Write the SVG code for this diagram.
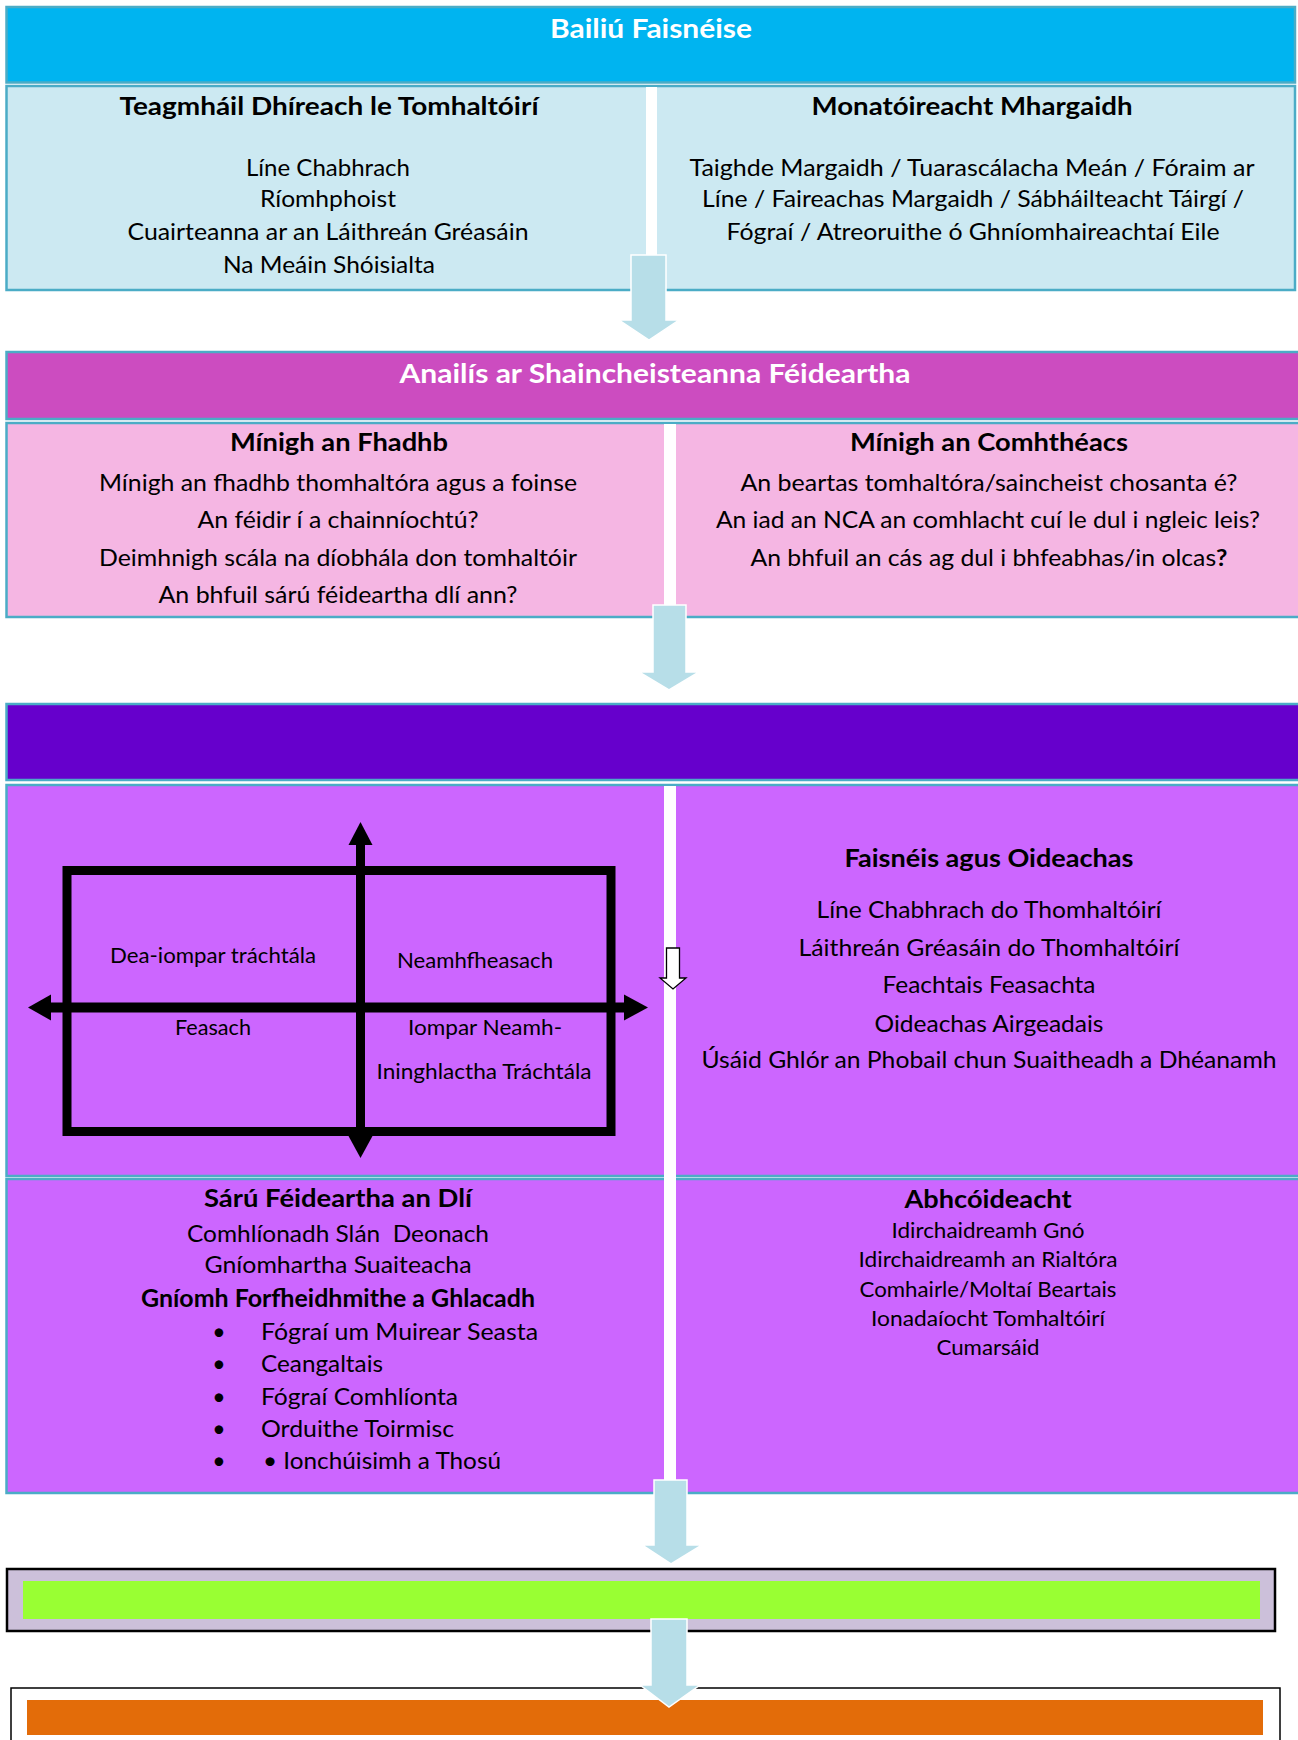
<svg xmlns="http://www.w3.org/2000/svg" width="1298" height="1740" viewBox="0 0 1298 1740">
<style>
text{font-family:Lato,"Open Sans","DejaVu Sans",sans-serif;fill:#000;text-anchor:middle}
.h{font-size:27px;font-weight:bold;fill:#fff}
.t{font-size:24px;font-weight:bold}
.b{font-size:23px}
.s{font-size:21.5px}
.cell{stroke:#4BACC6;stroke-width:2.5}
.div{fill:#fff}
.blk{fill:#000}
.conn{fill:#B7DEE8;stroke:#fff;stroke-width:1.5}
.start{text-anchor:start}
</style>
<rect width="1298" height="1740" fill="#fff"/>

<g id="node-bailiu">
<rect class="cell" x="6.5" y="7" width="1288.5" height="75.5" fill="#00B4F0"/>
<rect class="cell" x="6.5" y="86" width="1288.5" height="204" fill="#CCE9F2"/>
<rect class="div" x="646" y="87" width="11" height="170"/>
<text class="h" x="651" y="38" textLength="202" lengthAdjust="spacingAndGlyphs">Bailiú Faisnéise</text>
<text class="t" x="329" y="115" textLength="419" lengthAdjust="spacingAndGlyphs">Teagmháil Dhíreach le Tomhaltóirí</text>
<text class="b" x="328" y="176" textLength="164" lengthAdjust="spacingAndGlyphs">Líne Chabhrach</text>
<text class="b" x="328" y="207" textLength="136" lengthAdjust="spacingAndGlyphs">Ríomhphoist</text>
<text class="b" x="328" y="240" textLength="401" lengthAdjust="spacingAndGlyphs">Cuairteanna ar an Láithreán Gréasáin</text>
<text class="b" x="329" y="273" textLength="212" lengthAdjust="spacingAndGlyphs">Na Meáin Shóisialta</text>
<text class="t" x="972" y="115" textLength="321" lengthAdjust="spacingAndGlyphs">Monatóireacht Mhargaidh</text>
<text class="b" x="972" y="176" textLength="565" lengthAdjust="spacingAndGlyphs">Taighde Margaidh / Tuarascálacha Meán / Fóraim ar</text>
<text class="b" x="973" y="207" textLength="542" lengthAdjust="spacingAndGlyphs">Líne / Faireachas Margaidh / Sábháilteacht Táirgí /</text>
<text class="b" x="973" y="240" textLength="493" lengthAdjust="spacingAndGlyphs">Fógraí / Atreoruithe ó Ghníomhaireachtaí Eile</text>
</g>

<g id="node-anailis">
<rect class="cell" x="6.5" y="352" width="1310" height="67" fill="#CC4CC0"/>
<rect class="cell" x="6.5" y="423" width="1310" height="194" fill="#F5B6E3"/>
<rect class="div" x="664" y="424" width="12" height="182"/>
<text class="h" x="655" y="383" textLength="511" lengthAdjust="spacingAndGlyphs">Anailís ar Shaincheisteanna Féideartha</text>
<text class="t" x="339" y="451" textLength="218" lengthAdjust="spacingAndGlyphs">Mínigh an Fhadhb</text>
<text class="b" x="338" y="491" textLength="478" lengthAdjust="spacingAndGlyphs">Mínigh an fhadhb thomhaltóra agus a foinse</text>
<text class="b" x="338" y="528" textLength="281" lengthAdjust="spacingAndGlyphs">An féidir í a chainníochtú?</text>
<text class="b" x="338" y="566" textLength="478" lengthAdjust="spacingAndGlyphs">Deimhnigh scála na díobhála don tomhaltóir</text>
<text class="b" x="338" y="603" textLength="359" lengthAdjust="spacingAndGlyphs">An bhfuil sárú féideartha dlí ann?</text>
<text class="t" x="989" y="451" textLength="278" lengthAdjust="spacingAndGlyphs">Mínigh an Comhthéacs</text>
<text class="b" x="989" y="491" textLength="497" lengthAdjust="spacingAndGlyphs">An beartas tomhaltóra/saincheist chosanta é?</text>
<text class="b" x="988" y="528" textLength="544" lengthAdjust="spacingAndGlyphs">An iad an NCA an comhlacht cuí le dul i ngleic leis?</text>
<text class="b" x="989" y="566" textLength="477" lengthAdjust="spacingAndGlyphs">An bhfuil an cás ag dul i bhfeabhas/in olcas<tspan font-weight="bold">?</tspan></text>
</g>

<g id="node-gniomh">
<rect class="cell" x="6.5" y="704" width="1310" height="76" fill="#6600CC"/>
<rect class="cell" x="6.5" y="785" width="1310" height="391" fill="#CC66FF"/>
<rect class="cell" x="6.5" y="1179" width="1310" height="314" fill="#CC66FF"/>
<rect class="div" x="664" y="786" width="12" height="700"/>
<g id="quadrant">
<rect x="67" y="870.5" width="544" height="261" fill="none" stroke="#000" stroke-width="9"/>
<rect class="blk" x="50" y="1002.5" width="575" height="10"/>
<polygon class="blk" points="28,1007.5 51,994.5 51,1020.5"/>
<polygon class="blk" points="648,1007.5 624,994.5 624,1020.5"/>
<rect class="blk" x="356" y="844" width="9" height="293"/>
<polygon class="blk" points="360.5,822 348.5,845 372.5,845"/>
<polygon class="blk" points="360.5,1158 348.5,1136 372.5,1136"/>
<text class="s" x="213" y="963" textLength="206" lengthAdjust="spacingAndGlyphs">Dea-iompar tráchtála</text>
<text class="s" x="475" y="968" textLength="156" lengthAdjust="spacingAndGlyphs">Neamhfheasach</text>
<text class="s" x="213" y="1035" textLength="76" lengthAdjust="spacingAndGlyphs">Feasach</text>
<text class="s" x="485" y="1035" textLength="154" lengthAdjust="spacingAndGlyphs">Iompar Neamh-</text>
<text class="s" x="484" y="1079" textLength="215" lengthAdjust="spacingAndGlyphs">Ininghlactha Tráchtála</text>
</g>
<polygon points="666.5,948 679.5,948 679.5,978 686,978 673,989 660,978 666.5,978" fill="#fff" stroke="#000" stroke-width="1.3"/>
<text class="t" x="989" y="867" textLength="289" lengthAdjust="spacingAndGlyphs">Faisnéis agus Oideachas</text>
<text class="b" x="989" y="918" textLength="345" lengthAdjust="spacingAndGlyphs">Líne Chabhrach do Thomhaltóirí</text>
<text class="b" x="989" y="956" textLength="381" lengthAdjust="spacingAndGlyphs">Láithreán Gréasáin do Thomhaltóirí</text>
<text class="b" x="989" y="993" textLength="213" lengthAdjust="spacingAndGlyphs">Feachtais Feasachta</text>
<text class="b" x="989" y="1032" textLength="229" lengthAdjust="spacingAndGlyphs">Oideachas Airgeadais</text>
<text class="b" x="989" y="1068" textLength="575" lengthAdjust="spacingAndGlyphs">Úsáid Ghlór an Phobail chun Suaitheadh a Dhéanamh</text>
<text class="t" x="338" y="1207" textLength="268" lengthAdjust="spacingAndGlyphs">Sárú Féideartha an Dlí</text>
<text class="b" x="338" y="1242" textLength="302" lengthAdjust="spacingAndGlyphs" style="white-space:pre">Comhlíonadh Slán  Deonach</text>
<text class="b" x="338" y="1273" textLength="267" lengthAdjust="spacingAndGlyphs">Gníomhartha Suaiteacha</text>
<text class="t" x="338" y="1307" textLength="394" lengthAdjust="spacingAndGlyphs">Gníomh Forfheidhmithe a Ghlacadh</text>
<text class="b" x="219" y="1340">•</text>
<text class="b" x="219" y="1372">•</text>
<text class="b" x="219" y="1405">•</text>
<text class="b" x="219" y="1437">•</text>
<text class="b" x="219" y="1469">•</text>
<text class="b start" x="261" y="1340" textLength="277" lengthAdjust="spacingAndGlyphs">Fógraí um Muirear Seasta</text>
<text class="b start" x="261" y="1372" textLength="122" lengthAdjust="spacingAndGlyphs">Ceangaltais</text>
<text class="b start" x="261" y="1405" textLength="197" lengthAdjust="spacingAndGlyphs">Fógraí Comhlíonta</text>
<text class="b start" x="261" y="1437" textLength="193" lengthAdjust="spacingAndGlyphs">Orduithe Toirmisc</text>
<text class="b start" x="263" y="1469" textLength="238" lengthAdjust="spacingAndGlyphs">• Ionchúisimh a Thosú</text>
<text class="t" x="988" y="1208" textLength="167" lengthAdjust="spacingAndGlyphs">Abhcóideacht</text>
<text class="s" x="988" y="1238" textLength="193" lengthAdjust="spacingAndGlyphs">Idirchaidreamh Gnó</text>
<text class="s" x="988" y="1267" textLength="259" lengthAdjust="spacingAndGlyphs">Idirchaidreamh an Rialtóra</text>
<text class="s" x="988" y="1297" textLength="257" lengthAdjust="spacingAndGlyphs">Comhairle/Moltaí Beartais</text>
<text class="s" x="988" y="1326" textLength="234" lengthAdjust="spacingAndGlyphs">Ionadaíocht Tomhaltóirí</text>
<text class="s" x="988" y="1355" textLength="103" lengthAdjust="spacingAndGlyphs">Cumarsáid</text>
</g>

<g id="node-green">
<rect x="7" y="1569" width="1268" height="62" fill="#CCC0DA" stroke="#000" stroke-width="2.5"/>
<rect x="23" y="1581" width="1237" height="38" fill="#99FF33"/>
</g>

<g id="node-orange">
<rect x="11" y="1688" width="1269" height="70" fill="#fff" stroke="#000" stroke-width="1.5"/>
<rect x="27" y="1700" width="1236" height="35" fill="#E36C09"/>
</g>

<g id="connectors">
<polygon class="conn" points="631,255 666,255 666,320 679,320 649,340 619,320 631,320"/>
<polygon class="conn" points="653,605 686,605 686,672 699,672 669,690 639,672 653,672"/>
<polygon class="conn" points="654,1480 687,1480 687,1545 702,1545 671,1564 642,1545 654,1545"/>
<polygon class="conn" points="651,1619 687,1619 687,1685 700,1685 669,1707 640,1685 651,1685"/>
</g>
</svg>
